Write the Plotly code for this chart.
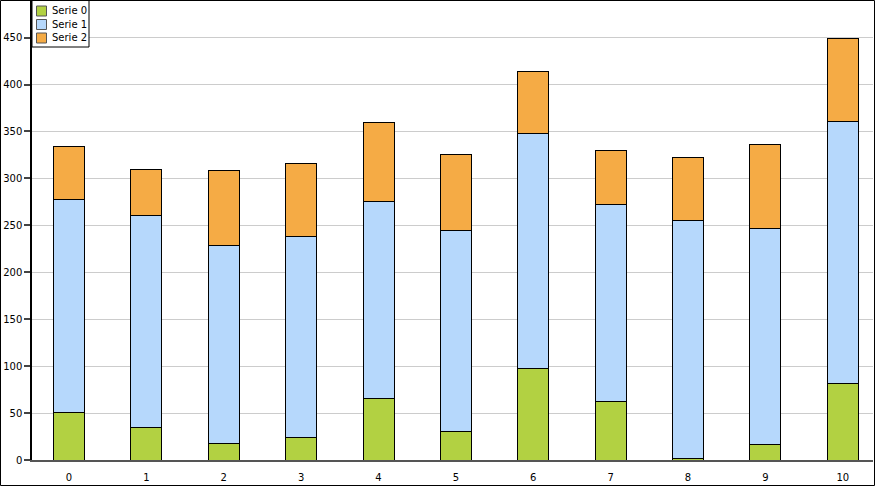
import plotly.graph_objects as go

categories = [str(i) for i in range(11)]
serie0 = [51, 35, 18, 24, 65, 30, 97, 62, 2, 17, 81]
serie1 = [227, 225, 211, 214, 210, 214, 251, 210, 253, 230, 280]
serie2 = [56, 49, 79, 78, 85, 81, 66, 58, 67, 89, 88]
series_names = ["Serie 0", "Serie 1", "Serie 2"]
series_colors = ["#b2d142", "#b6d8fc", "#f5ab45"]
y_ticks = [0, 50, 100, 150, 200, 250, 300, 350, 400, 450]

W, H = 875, 486
ML, MR, MT, MB = 32, 2, 1, 26
PW, PH = W - ML - MR, H - MT - MB

def px(x):
    return (x - ML) / PW

def py(y):
    return (H - MB - y) / PH

fig = go.Figure()
for name, vals, col in zip(series_names, [serie0, serie1, serie2], series_colors):
    fig.add_trace(go.Bar(
        x=list(range(len(categories))), y=vals, name=name,
        marker=dict(color=col, line=dict(color="#000000", width=1)),
        width=0.40, showlegend=False,
    ))

font = dict(family="DejaVu Sans", size=10, color="#000000")

shapes = []
annotations = []
# outer frame
shapes.append(dict(type="rect", xref="paper", yref="paper",
                   x0=px(0.5), x1=px(874.5), y0=py(485.5), y1=py(0.5),
                   line=dict(color="#000000", width=1), fillcolor="rgba(0,0,0,0)", layer="above"))
# legend box
shapes.append(dict(type="rect", xref="paper", yref="paper",
                   x0=px(32), x1=px(89), y0=py(47), y1=py(0.5),
                   line=dict(color="#000000", width=1), fillcolor="#ffffff", layer="above"))
for i, (name, col) in enumerate(zip(series_names, series_colors)):
    cy = 11 + 13.5 * i
    shapes.append(dict(type="rect", xref="paper", yref="paper",
                       x0=px(36.5), x1=px(46.5), y0=py(cy + 5), y1=py(cy - 5),
                       line=dict(color="#555555", width=1), fillcolor=col, layer="above"))
    annotations.append(dict(xref="paper", yref="paper", x=px(50), y=py(cy),
                            text=name, showarrow=False, xanchor="left", yanchor="middle",
                            font=dict(family="DejaVu Sans", size=10, color="#000000")))

fig.update_layout(
    width=W, height=H,
    margin=dict(l=ML, r=MR, t=MT, b=MB, pad=0),
    barmode="stack",
    plot_bgcolor="#ffffff", paper_bgcolor="#ffffff",
    font=font,
    shapes=shapes, annotations=annotations,
    xaxis=dict(
        range=[-0.478, 10.39], tickmode="array",
        tickvals=list(range(len(categories))), ticktext=categories,
        showgrid=False, zeroline=False, showline=True,
        linecolor="#555555", linewidth=2, ticks="", fixedrange=True,
        ticklabelstandoff=7,
        tickfont=dict(family="DejaVu Sans", size=10, color="#000000"),
    ),
    yaxis=dict(
        range=[0, 489], tickmode="array", tickvals=y_ticks,
        ticktext=[str(v) for v in y_ticks],
        showgrid=True, gridcolor="#cccccc", gridwidth=1,
        zeroline=False, showline=True, linecolor="#000000", linewidth=1.5,
        ticks="outside", ticklen=6, tickcolor="#444444", tickwidth=1.5,
        tickfont=dict(family="DejaVu Sans", size=10, color="#000000"),
    ),
    bargap=0.6,
)

fig.write_html("out.html",
               config={"displayModeBar": False},
               post_script="document.body.style.margin='0';document.body.style.overflow='hidden';")
